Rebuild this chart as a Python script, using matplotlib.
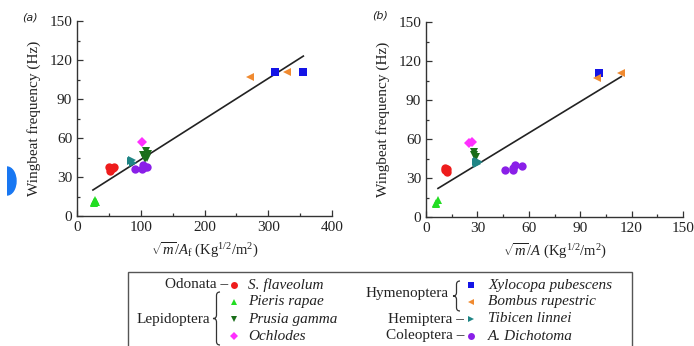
import numpy as np
import matplotlib
matplotlib.use("Agg")
import matplotlib.pyplot as plt
from matplotlib.lines import Line2D
from matplotlib.path import Path
from matplotlib.patches import PathPatch, Rectangle, Ellipse
from matplotlib.ticker import MultipleLocator

plt.rcParams['font.family'] = ['Liberation Serif', 'DejaVu Serif']
plt.rcParams['mathtext.fontset'] = 'custom'
plt.rcParams['mathtext.rm'] = 'Liberation Serif'
plt.rcParams['mathtext.it'] = 'Liberation Serif:italic'

# ---------------- data ----------------
species = ['S. flaveolum', 'Pieris rapae', 'Prusia gamma', 'Ochlodes',
           'Xylocopa pubescens', 'Bombus rupestric', 'Tibicen linnei', 'A. Dichotoma']
orders = ['Odonata', 'Lepidoptera', 'Lepidoptera', 'Lepidoptera',
          'Hymenoptera', 'Hymenoptera', 'Hemiptera', 'Coleoptera']
markers = ['o', '^', 'v', 'D', 's', '<', '>', 'o']
colors = ['#ee1c1c', '#22dd22', '#1a6e1a', '#ff30ff', '#1414e6', '#f08a30', '#1f8585', '#8a1fe8']

# panel (a): sqrt(m)/A_f
xa_flav = [50, 53, 56, 58, 52];      ya_flav = [38, 36, 37, 38, 35]
xa_pier = [26, 28, 30, 27];          ya_pier = [10, 12, 11, 11]
xa_prus = [104, 108, 110, 106, 112]; ya_prus = [47, 50, 45, 44, 48]
xa_ochl = [102];                     ya_ochl = [57]
xa_xylo = [310, 355];                ya_xylo = [111, 111]
xa_bomb = [271, 330];                ya_bomb = [107, 111]
xa_tibi = [84, 86, 88];              ya_tibi = [42, 43, 41]
xa_dich = [91, 102, 104, 110, 106];  ya_dich = [36, 36, 39, 38, 38]
fit_a_x = [25, 355];                 fit_a_y = [20, 123]

# panel (b): sqrt(m)/A
xb_flav = [11, 11, 12, 12];          yb_flav = [36, 38, 37, 35]
xb_pier = [6, 7, 6];                 yb_pier = [11, 13, 10]
xb_prus = [28, 28, 29];              yb_prus = [48, 50, 46]
xb_ochl = [25, 27];                  yb_ochl = [57, 58]
xb_xylo = [101];                     yb_xylo = [111]
xb_bomb = [100, 114];                yb_bomb = [107, 111]
xb_tibi = [29, 30, 31, 30];          yb_tibi = [42, 43, 42, 41]
xb_dich = [46, 51, 51, 52, 56];      yb_dich = [36, 36, 38, 40, 39]
fit_b_x = [7, 114];                  fit_b_y = [22, 108]

xa_sets = [xa_flav, xa_pier, xa_prus, xa_ochl, xa_xylo, xa_bomb, xa_tibi, xa_dich]
ya_sets = [ya_flav, ya_pier, ya_prus, ya_ochl, ya_xylo, ya_bomb, ya_tibi, ya_dich]
xb_sets = [xb_flav, xb_pier, xb_prus, xb_ochl, xb_xylo, xb_bomb, xb_tibi, xb_dich]
yb_sets = [yb_flav, yb_pier, yb_prus, yb_ochl, yb_xylo, yb_bomb, yb_tibi, yb_dich]

W, H = 694, 346
fig = plt.figure(figsize=(W / 100, H / 100), dpi=100)

def fx(px):
    return px / W

def fy(py):
    return 1 - py / H

def make_axes(left, right, top, bottom):
    return fig.add_axes([fx(left), fy(bottom), fx(right) - fx(left), fy(top) - fy(bottom)])

ax_a = make_axes(77, 332, 21, 216)
ax_b = make_axes(426, 683, 22, 217)

def style(ax, xmax, xmajor, xlabel):
    ax.set_xlim(0, xmax)
    ax.set_ylim(0, 150)
    ax.xaxis.set_major_locator(MultipleLocator(xmajor))
    ax.xaxis.set_minor_locator(MultipleLocator(xmajor / 2))
    ax.yaxis.set_major_locator(MultipleLocator(30))
    ax.yaxis.set_minor_locator(MultipleLocator(15))
    for s in ['top', 'right']:
        ax.spines[s].set_visible(False)
    for s in ['left', 'bottom']:
        ax.spines[s].set_color('#333333')
        ax.spines[s].set_linewidth(1.0)
    ax.tick_params(which='both', direction='in', colors='#333333', labelsize=11,
                   labelcolor='#222222', width=0.9)
    ax.tick_params(which='major', length=4)
    ax.tick_params(which='minor', length=2.5)
    ax.set_ylabel('Wingbeat frequency (Hz)', fontsize=11, color='#222222', labelpad=6)
    ax.set_xlabel(xlabel, fontsize=10.5, color='#222222', labelpad=5)

style(ax_a, 400, 100, r'$\sqrt{m}/A_{\mathrm{f}}$ (Kg$^{1/2}$/m$^2$)')
style(ax_b, 150, 30, r'$\sqrt{m}/A$ (Kg$^{1/2}$/m$^2$)')

for ax, xs_all, ys_all, fxs, fys in [(ax_a, xa_sets, ya_sets, fit_a_x, fit_a_y),
                                     (ax_b, xb_sets, yb_sets, fit_b_x, fit_b_y)]:
    ax.plot(fxs, fys, color='#222222', lw=1.2, zorder=1)
    for xs, ys, m, c in zip(xs_all, ys_all, markers, colors):
        ms = 5.5 if m in ('s', 'D') else 6
        ax.plot(xs, ys, linestyle='none', marker=m, color=c, markersize=ms,
                markeredgewidth=0, zorder=2)

fig.text(fx(22), fy(17), '(a)', fontsize=8, style='italic', family='DejaVu Sans',
         va='center', ha='left', color='#222222')
fig.text(fx(372), fy(16), '(b)', fontsize=8, style='italic', family='DejaVu Sans',
         va='center', ha='left', color='#222222')

# blue half-disc artifact at left edge
disc = Ellipse((fx(7), fy(181)), width=fx(18), height=28 / H, color='#1877f2',
               transform=fig.transFigure)
fig.add_artist(disc)
clip = Rectangle((fx(7), 0), 1, 1, transform=fig.transFigure)
disc.set_clip_path(clip)

# ---------------- legend ----------------
fig.add_artist(Rectangle((fx(128), fy(352)), fx(632) - fx(128), fy(272) - fy(352),
                         transform=fig.transFigure, fill=False, edgecolor='#555555', lw=1.0))

def brace(x_tip, y_top, y_bot, w):
    xr, xm, xt = x_tip + w, x_tip + w / 2, x_tip
    ym = (y_top + y_bot) / 2
    r = w / 2
    pts = [(xr, y_top), (xm, y_top), (xm, y_top + r), (xm, ym - r), (xm, ym), (xt, ym),
           (xm, ym), (xm, ym + r), (xm, y_bot - r), (xm, y_bot), (xr, y_bot)]
    codes = [Path.MOVETO, Path.CURVE3, Path.CURVE3, Path.LINETO, Path.CURVE3, Path.CURVE3,
             Path.CURVE3, Path.CURVE3, Path.LINETO, Path.CURVE3, Path.CURVE3]
    verts = [(fx(px), fy(py)) for px, py in pts]
    fig.add_artist(PathPatch(Path(verts, codes), transform=fig.transFigure,
                             fill=False, lw=0.9, edgecolor='#333333'))

fs = 11
rows = [285, 302, 319, 336]
left_marker_x, left_text_x = 234, 248
right_marker_x, right_text_x = 471, 488
for i in range(4):
    y = rows[i]
    fig.add_artist(Line2D([fx(left_marker_x)], [fy(y)], marker=markers[i], color=colors[i],
                          markersize=5 if markers[i] != 'D' else 4.5, markeredgewidth=0,
                          transform=fig.transFigure))
    fig.text(fx(left_text_x), fy(y), species[i], fontsize=fs, style='italic',
             va='center', ha='left', color='#222222')
for j in range(4):
    i = 4 + j
    y = rows[j]
    fig.add_artist(Line2D([fx(right_marker_x)], [fy(y)], marker=markers[i], color=colors[i],
                          markersize=5 if markers[i] != 's' else 4.5, markeredgewidth=0,
                          transform=fig.transFigure))
    fig.text(fx(right_text_x), fy(y), species[i], fontsize=fs, style='italic',
             va='center', ha='left', color='#222222')

fig.text(fx(228), fy(285), orders[0] + ' \u2013', fontsize=fs, va='center', ha='right', color='#222222')
fig.text(fx(210), fy(319), orders[1], fontsize=fs, va='center', ha='right', color='#222222')
brace(213, 292, 345, 7)
fig.text(fx(449), fy(293), orders[4], fontsize=fs, va='center', ha='right', color='#222222')
brace(453, 281, 311, 7)
fig.text(fx(464), fy(319), orders[6] + ' \u2013', fontsize=fs, va='center', ha='right', color='#222222')
fig.text(fx(464), fy(336), orders[7] + ' \u2013', fontsize=fs, va='center', ha='right', color='#222222')

fig.savefig('out.png', dpi=100)
